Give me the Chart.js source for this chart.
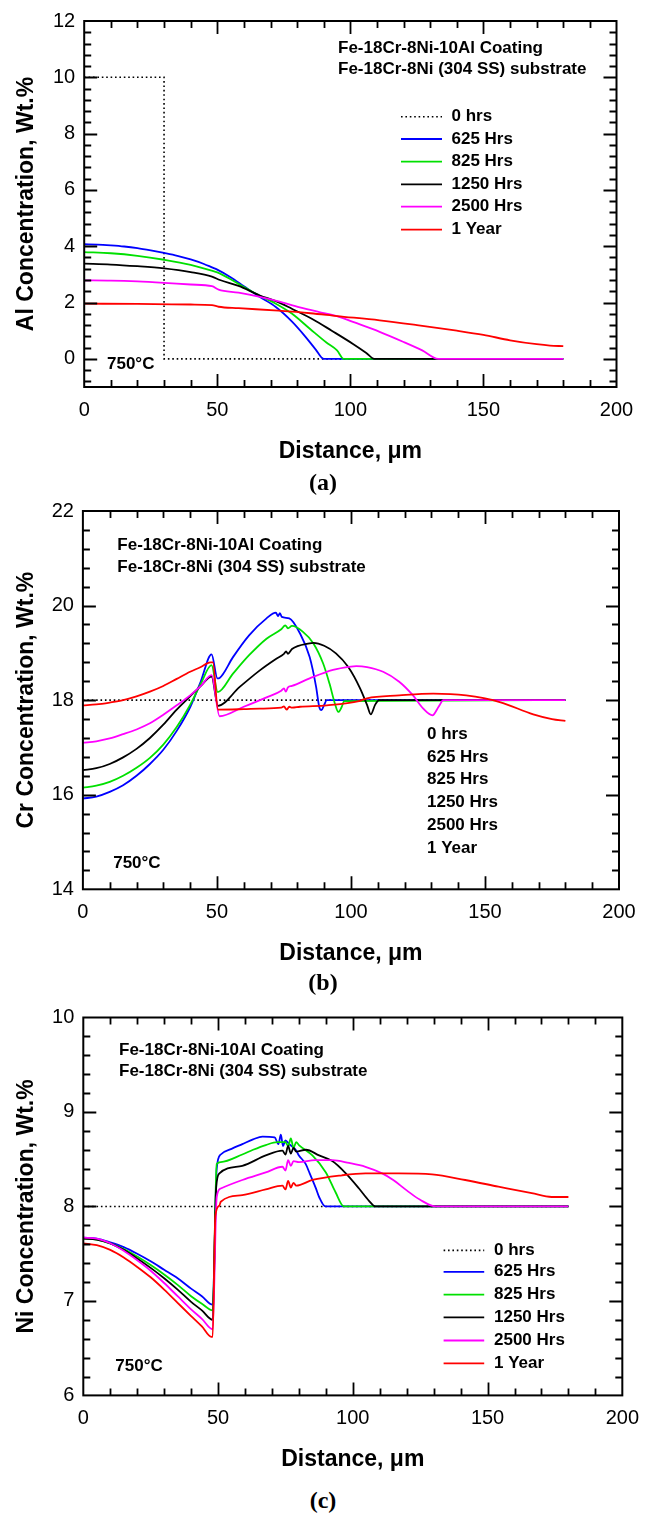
<!DOCTYPE html>
<html><head><meta charset="utf-8">
<script src="https://cdn.jsdelivr.net/npm/chart.js@4.4.1/dist/chart.umd.min.js"></script>
<style>
html,body{margin:0;padding:0;background:#fff;}
body{width:650px;height:1513px;position:relative;overflow:hidden;}
.wrap{position:absolute;left:0;width:650px;}
.cap{position:absolute;left:0;width:646px;text-align:center;font:bold 24px "Liberation Serif","Times New Roman",serif;line-height:24px;height:24px;margin-top:-12px;color:#000;}
</style></head><body>
<div class="wrap" style="top:0;height:470px"><canvas id="cA"></canvas></div>
<div class="wrap" style="top:490px;height:480px"><canvas id="cB"></canvas></div>
<div class="wrap" style="top:990px;height:490px"><canvas id="cC"></canvas></div>
<div class="cap" style="top:482px">(a)</div>
<div class="cap" style="top:982px">(b)</div>
<div class="cap" style="top:1500px">(c)</div>
<script>
// ---------- data ----------
const distTicks = [0, 50, 100, 150, 200];
const alTicks = [0, 2, 4, 6, 8, 10, 12];
const crTicks = [14, 16, 18, 20, 22];
const niTicks = [6, 7, 8, 9, 10];
const seriesNames = ['0 hrs', '625 Hrs', '825 Hrs', '1250 Hrs', '2500 Hrs', '1 Year'];

// Al concentration [distance µm, wt.%]
const al0 = [[0,10],[30,10],[30,0],[180,0]];
const al625 = [[0,4.07],[5,4.06],[10,4.03],[15,3.99],[20,3.93],[25,3.85],[30,3.76],[35,3.66],[40,3.53],[45,3.37],[48,3.25],[50,3.17],[55,2.90],[60,2.58],[66,2.20],[72,1.84],[78,1.33],[83,0.80],[87,0.33],[90,0],[180,0]];
const al825 = [[0,3.79],[10,3.75],[20,3.66],[30,3.52],[40,3.34],[48,3.13],[50,3.07],[55,2.83],[60,2.55],[66,2.24],[72,1.96],[78,1.61],[85,1.05],[91,0.58],[95,0.3],[97.5,0],[180,0]];
const al1250 = [[0,3.38],[10,3.35],[20,3.29],[30,3.21],[40,3.08],[48,2.92],[51,2.80],[58,2.59],[66,2.25],[72,2.05],[78,1.78],[86,1.40],[93,1.00],[101,0.53],[106,0.21],[109,0],[180,0]];
const al2500 = [[0,2.79],[10,2.78],[20,2.75],[30,2.70],[40,2.64],[48,2.58],[50.5,2.46],[58,2.35],[66,2.20],[73,2.04],[81,1.83],[88,1.67],[95,1.52],[101,1.31],[111,0.96],[120,0.6],[127,0.3],[133,0],[180,0]];
const al1yr = [[0,1.96],[20,1.95],[40,1.93],[48,1.91],[50.5,1.85],[58,1.80],[73,1.71],[85,1.62],[95,1.52],[111,1.37],[125,1.2],[140,1.0],[150,0.85],[160,0.66],[170,0.52],[175,0.47],[180,0.45]];

// Cr concentration
const cr0 = [[0,18],[180,18]];
const cr625 = [[0,15.92],[5,15.96],[10,16.06],[15,16.2],[20,16.4],[25,16.65],[30,16.95],[35,17.35],[40,17.85],[44,18.4],[48,18.97],[50.2,18.46],[51,18.47],[56,18.91],[62,19.37],[68.5,19.73],[72,19.85],[72.8,19.78],[73.5,19.84],[74.2,19.76],[77,19.73],[81,19.41],[84.6,18.91],[87,18.28],[88.2,17.85],[89,17.79],[90,17.9],[91,18.0],[180,18]];
const cr825 = [[0,16.15],[5,16.19],[10,16.27],[15,16.4],[20,16.57],[25,16.78],[30,17.06],[35,17.43],[40,17.9],[44,18.35],[48,18.74],[50.3,18.17],[56,18.56],[62,18.95],[68.5,19.30],[74,19.5],[75.5,19.58],[76.5,19.52],[78,19.57],[82,19.45],[86,19.2],[89.6,18.78],[92,18.35],[94,17.93],[95.3,17.75],[96.5,17.85],[97.5,17.98],[180,18]];
const cr1250 = [[0,16.52],[5,16.56],[10,16.65],[15,16.79],[20,16.97],[25,17.2],[30,17.48],[35,17.8],[40,18.08],[44,18.3],[48,18.5],[50.4,17.88],[58.5,18.28],[66,18.63],[72,18.87],[75,18.98],[75.8,19.03],[76.5,18.98],[78,19.08],[84.6,19.2],[86,19.21],[90,19.15],[94.4,18.99],[99,18.7],[103.4,18.25],[106,17.9],[107.4,17.70],[109,17.9],[110.5,18.0],[180,18]];
const cr2500 = [[0,17.10],[5,17.13],[10,17.19],[15,17.28],[20,17.38],[25,17.51],[30,17.69],[35,17.89],[40,18.1],[44,18.3],[48,18.53],[51,17.66],[60,17.86],[68.5,18.06],[74,18.2],[75,18.25],[75.7,18.18],[76.5,18.27],[78,18.3],[84.6,18.46],[93.3,18.64],[100,18.71],[102,18.72],[106,18.7],[112,18.6],[118,18.39],[123,18.11],[127,17.82],[130.4,17.68],[132.7,17.86],[134.5,18.0],[180,18]];
const cr1yr = [[0,17.89],[5,17.91],[10,17.95],[15,18.0],[20,18.08],[25,18.18],[30,18.3],[35,18.45],[40,18.6],[44,18.7],[47.5,18.80],[48.5,18.80],[50.4,17.80],[60,17.81],[66,17.82],[74,17.84],[75,17.87],[76,17.8],[77,17.86],[78,17.84],[81,17.86],[91,17.89],[103,17.98],[106,18.04],[118,18.1],[130.7,18.14],[143,18.1],[155.5,17.96],[168,17.70],[175,17.6],[180,17.56]];

// Ni concentration
const ni0 = [[0,8],[180,8]];
const ni625 = [[0,7.67],[5,7.66],[10,7.62],[15,7.57],[20,7.50],[25,7.42],[30,7.33],[35,7.24],[40,7.13],[44,7.05],[48,6.96],[49.5,8.4],[51,8.55],[55,8.61],[59,8.66],[63,8.71],[66.5,8.74],[71,8.73],[72.4,8.66],[73.3,8.76],[74.1,8.64],[75,8.70],[76.4,8.66],[78.8,8.6],[80,8.54],[82.5,8.45],[84,8.35],[86.2,8.2],[87.5,8.1],[89.8,8.0],[180,8]];
const ni825 = [[0,7.66],[5,7.65],[10,7.61],[15,7.55],[20,7.47],[25,7.38],[30,7.28],[35,7.17],[40,7.05],[44,6.97],[48,6.90],[49.5,8.45],[51,8.47],[59,8.55],[63,8.6],[67.7,8.65],[72,8.68],[75,8.68],[76,8.64],[77,8.72],[78,8.62],[79,8.68],[80,8.65],[85,8.54],[90,8.36],[93.6,8.15],[96.7,8.0],[180,8]];
const ni1250 = [[0,7.66],[5,7.65],[10,7.61],[15,7.54],[20,7.45],[25,7.35],[30,7.24],[35,7.12],[40,6.99],[44,6.9],[48,6.80],[49.3,8.2],[50.5,8.35],[59,8.43],[67.7,8.54],[73.9,8.59],[75,8.55],[76,8.64],[77,8.56],[78,8.62],[79,8.58],[82.6,8.6],[87.5,8.54],[92.4,8.48],[97.4,8.35],[102.3,8.19],[106,8.06],[108.4,8.0],[180,8]];
const ni2500 = [[0,7.67],[5,7.66],[10,7.61],[15,7.53],[20,7.43],[25,7.32],[30,7.19],[35,7.05],[40,6.91],[44,6.81],[48,6.70],[49.5,8.1],[51,8.19],[59,8.28],[67.7,8.36],[73.9,8.42],[75,8.38],[76,8.49],[77,8.43],[78,8.48],[80,8.47],[86,8.49],[92.4,8.49],[98.6,8.46],[104.7,8.42],[110.9,8.35],[115,8.28],[120,8.17],[125,8.07],[130.8,8.0],[180,8]];
const ni1yr = [[0,7.61],[5,7.59],[10,7.54],[15,7.46],[20,7.36],[25,7.25],[30,7.12],[35,6.98],[40,6.84],[44,6.73],[47.5,6.62],[48,6.62],[49,7.9],[50.5,8.01],[51,8.05],[59,8.12],[67.7,8.18],[73.9,8.22],[75,8.18],[76,8.27],[77,8.2],[78,8.25],[79,8.22],[85,8.28],[96,8.33],[104.7,8.35],[117,8.35],[129.4,8.34],[141.7,8.28],[154,8.21],[166.4,8.14],[173.8,8.10],[180,8.10]];

// ---------- styling / helpers ----------
const FONT = '"Liberation Sans", Arial, Helvetica, sans-serif';
const seriesColors = ['#000000', '#0000ff', '#00e000', '#000000', '#ff00ff', '#ff0000'];

function makeDatasets(list) {
  return list.map((pts, i) => ({
    label: seriesNames[i],
    data: pts.map(p => ({x: p[0], y: p[1]})),
    borderColor: seriesColors[i],
    backgroundColor: seriesColors[i],
    borderWidth: i === 0 ? 1.6 : 1.8,
    borderDash: i === 0 ? [1.6, 2.8] : [],
    pointRadius: 0,
    tension: 0,
    cubicInterpolationMode: i === 0 ? 'default' : 'monotone',
    order: 10 - i
  }));
}

const framePlugin = {
  id: 'frame',
  afterDatasetsDraw(chart, args, o) {
    const {ctx, chartArea: a, scales: {x, y}} = chart;
    ctx.save();
    ctx.strokeStyle = '#000';
    ctx.lineWidth = 1.8;
    ctx.beginPath();
    const doAxis = (scale, minor, major, horiz) => {
      const k0 = Math.ceil(scale.min / minor - 1e-6), k1 = Math.floor(scale.max / minor + 1e-6);
      for (let k = k0; k <= k1; k++) {
        const v = k * minor;
        if (Math.abs(v - scale.min) < 1e-6 || Math.abs(v - scale.max) < 1e-6) continue;
        const isMajor = Math.abs(v / major - Math.round(v / major)) < 1e-6;
        const len = isMajor ? 13 : 7;
        const p = Math.round(scale.getPixelForValue(v)) + 0.5;
        if (horiz) {
          ctx.moveTo(p, a.bottom); ctx.lineTo(p, a.bottom - len);
          ctx.moveTo(p, a.top); ctx.lineTo(p, a.top + len);
        } else {
          ctx.moveTo(a.left, p); ctx.lineTo(a.left + len, p);
          ctx.moveTo(a.right, p); ctx.lineTo(a.right - len, p);
        }
      }
    };
    doAxis(x, o.xMinor, o.xMajor, true);
    doAxis(y, o.yMinor, o.yMajor, false);
    ctx.stroke();
    ctx.lineWidth = 2;
    ctx.strokeRect(a.left, a.top, a.right - a.left, a.bottom - a.top);
    ctx.restore();
  }
};

const annotPlugin = {
  id: 'annot',
  afterDraw(chart, args, o) {
    const ctx = chart.ctx;
    ctx.save();
    ctx.fillStyle = '#000';
    ctx.font = 'bold 17px ' + FONT;
    ctx.textBaseline = 'middle';
    ctx.textAlign = 'left';
    o.texts.forEach(t => ctx.fillText(t.s, t.x, t.y));
    const L = o.legend;
    L.rows.forEach((ry, i) => {
      const ds = chart.data.datasets[i];
      if (L.lines) {
        ctx.beginPath();
        ctx.strokeStyle = ds.borderColor;
        ctx.lineWidth = ds.borderWidth;
        ctx.setLineDash(ds.borderDash);
        ctx.moveTo(L.x1, ry); ctx.lineTo(L.x2, ry);
        ctx.stroke();
        ctx.setLineDash([]);
      }
      ctx.fillText(ds.label, L.tx, ry);
    });
    ctx.restore();
  }
};

function makeChart(id, cfg) {
  return new Chart(document.getElementById(id), {
    type: 'line',
    data: {datasets: makeDatasets(cfg.series)},
    plugins: [framePlugin, annotPlugin],
    options: {
      responsive: true, maintainAspectRatio: false, animation: false,
      devicePixelRatio: 1,
      layout: {padding: {left: 0, right: cfg.padR, top: cfg.padT, bottom: 0}},
      plugins: {
        legend: {display: false}, tooltip: {enabled: false},
        frame: {xMinor: 10, xMajor: 50, yMinor: cfg.yMinor, yMajor: cfg.yMajor},
        annot: cfg.annot
      },
      scales: {
        x: {
          type: 'linear', min: 0, max: 200,
          grid: {display: false, drawTicks: false}, border: {display: false},
          ticks: {font: {family: FONT, size: 20}, color: '#000', padding: 11, maxRotation: 0, autoSkip: false},
          afterBuildTicks: s => { s.ticks = distTicks.map(v => ({value: v})); },
          afterFit: s => { s.height = cfg.xH; },
          title: {display: true, text: 'Distance, \u03bcm', color: '#000',
                  font: {family: FONT, size: 23, weight: 'bold'}, padding: {top: 0, bottom: cfg.xTitlePB}}
        },
        y: {
          type: 'linear', min: cfg.yMin, max: cfg.yMax,
          grid: {display: false, drawTicks: false}, border: {display: false},
          ticks: {font: {family: FONT, size: 20}, color: '#000', padding: 9, autoSkip: false},
          afterBuildTicks: s => { s.ticks = cfg.yTicks.map(v => ({value: v})); },
          afterFit: s => { s.width = cfg.yW; },
          title: {display: true, text: cfg.yTitle, color: '#000',
                  font: {family: FONT, size: 23, weight: 'bold'}, padding: {top: 13, bottom: 0}}
        }
      }
    }
  });
}

makeChart('cA', {
  series: [al0, al625, al825, al1250, al2500, al1yr],
  yMin: -1, yMax: 12, yTicks: alTicks, yMinor: 0.4, yMajor: 2,
  yTitle: 'Al Concentration, Wt.%',
  padR: 33.5, padT: 15, yW: 84.2, xH: 83, xTitlePB: 4.5,
  annot: {
    texts: [
      {s: 'Fe-18Cr-8Ni-10Al Coating', x: 338, y: 48.3},
      {s: 'Fe-18Cr-8Ni (304 SS) substrate', x: 338, y: 69.3},
      {s: '750\u00b0C', x: 107, y: 364}
    ],
    legend: {lines: true, x1: 401, x2: 442, tx: 451.5, rows: [116.7, 139, 161.7, 184.3, 206.7, 229.7]}
  }
});

makeChart('cB', {
  series: [cr0, cr625, cr825, cr1250, cr2500, cr1yr],
  yMin: 14, yMax: 22, yTicks: crTicks, yMinor: 0.4, yMajor: 2,
  yTitle: 'Cr Concentration, Wt.%',
  padR: 31, padT: 20.7, yW: 82.9, xH: 80.7, xTitlePB: 2.9,
  annot: {
    texts: [
      {s: 'Fe-18Cr-8Ni-10Al Coating', x: 117.3, y: 55},
      {s: 'Fe-18Cr-8Ni (304 SS) substrate', x: 117.3, y: 77.3},
      {s: '750\u00b0C', x: 113.2, y: 373.3}
    ],
    legend: {lines: false, x1: 0, x2: 0, tx: 427, rows: [244.3, 267, 289.7, 312.3, 335, 358]}
  }
});

makeChart('cC', {
  series: [ni0, ni625, ni825, ni1250, ni2500, ni1yr],
  yMin: 6, yMax: 10, yTicks: niTicks, yMinor: 0.2, yMajor: 1,
  yTitle: 'Ni Concentration, Wt.%',
  padR: 26, padT: 27.5, yW: 83.3, xH: 84.6, xTitlePB: 6.6,
  annot: {
    texts: [
      {s: 'Fe-18Cr-8Ni-10Al Coating', x: 119, y: 60.4},
      {s: 'Fe-18Cr-8Ni (304 SS) substrate', x: 119, y: 81.2},
      {s: '750\u00b0C', x: 115.3, y: 376}
    ],
    legend: {lines: true, x1: 443.6, x2: 484.2, tx: 494, rows: [260.4, 281.8, 304.6, 327.4, 350.5, 373.3]}
  }
});
</script>
</body></html>
